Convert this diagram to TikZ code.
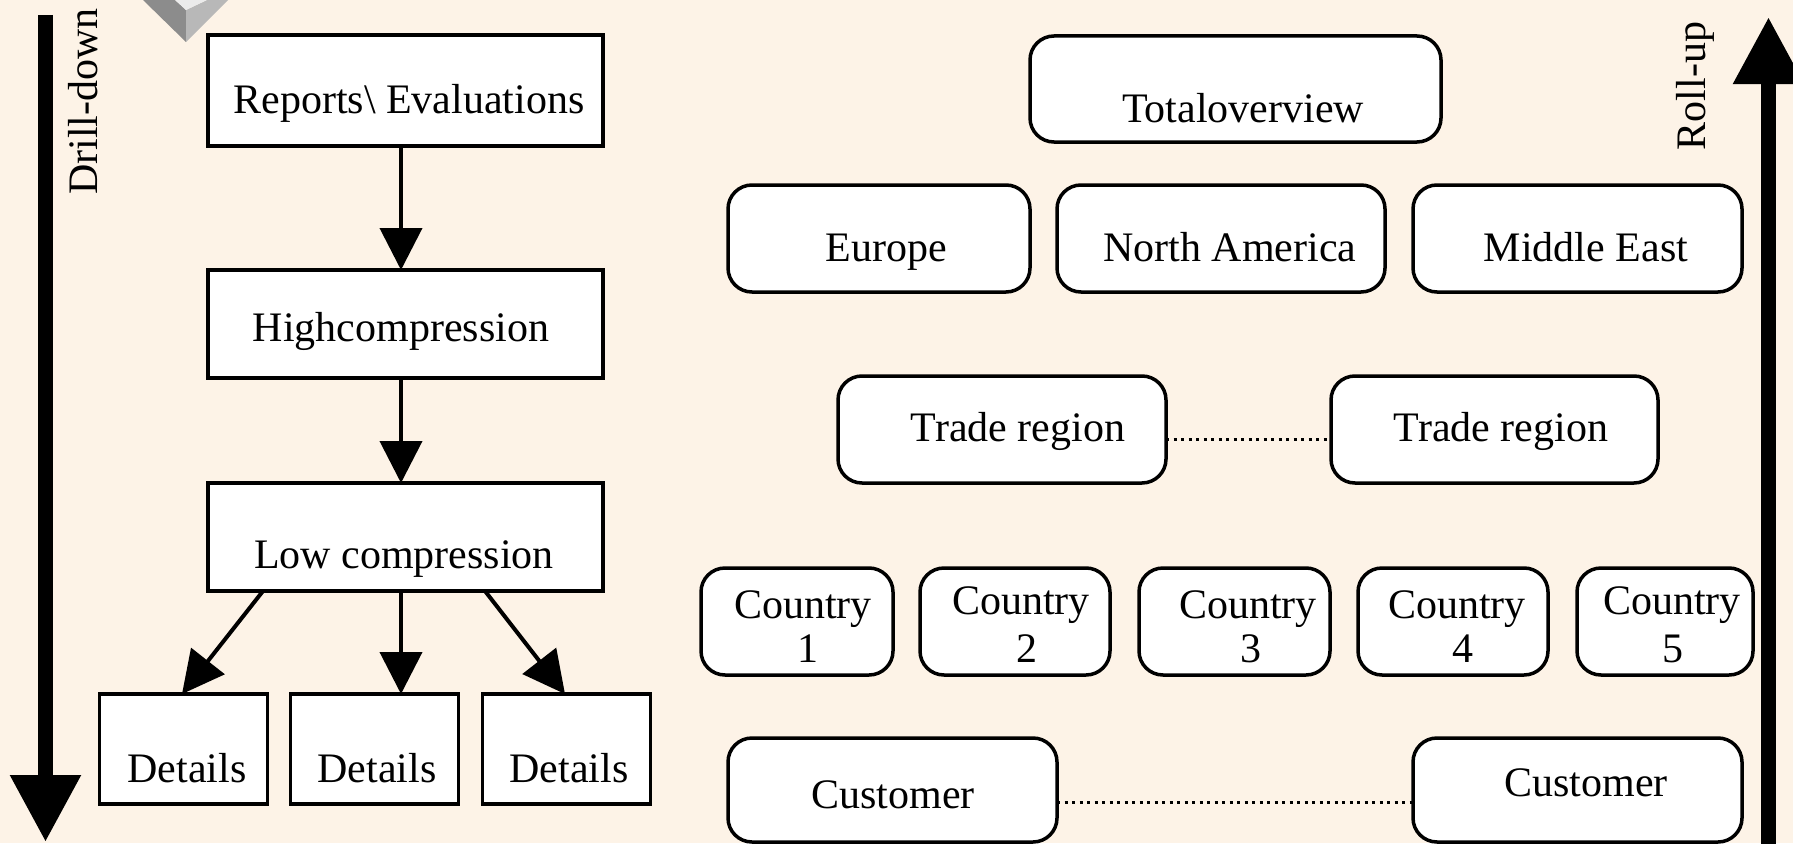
\documentclass[tikz,border=0pt]{standalone}
\usepackage{fontspec}
\setmainfont{Liberation Serif}
\usetikzlibrary{arrows.meta}
\definecolor{bgcream}{RGB}{253,243,231}
\definecolor{facedark}{RGB}{140,140,140}
\definecolor{facemid}{RGB}{184,184,184}
\definecolor{facelight}{RGB}{235,235,235}
\begin{document}
\begin{tikzpicture}[x=1pt,y=-1pt,
  sqbox/.style={draw=black, fill=white, line width=3.5pt, inner sep=0pt, outer sep=0pt, rectangle},
  rbox/.style={sqbox, rounded corners=24pt},
  lbl/.style={anchor=base, inner sep=0pt, outer sep=0pt, font=\fontsize{42}{48}\selectfont},
  flow/.style={line width=4pt, -{Triangle[length=42pt,width=42pt]}},
  bigarrow/.style={line width=15pt, -{Triangle[length=67pt,width=67pt]}},
  dotline/.style={line width=3pt, dash pattern=on 3pt off 4.5pt}]

% page and background
\fill[bgcream] (0,0) rectangle (1793,843);
\useasboundingbox (0,0) rectangle (1793,843);

% pyramid corner ornament
\fill[facedark] (143,0) -- (175,0) -- (186,10) -- (186,42) -- cycle;
\fill[facemid] (186,10) -- (207,0) -- (228,0) -- (186,42) -- cycle;
\fill[facelight] (175,0) -- (207,0) -- (186,10) -- cycle;

% drill-down arrow
\coordinate (drilltop) at (45.5,15);
\coordinate (drillend) at (45.5,842);
\draw[bigarrow] (drilltop) -- (drillend);
\node[lbl, rotate=90] (drilltxt) at (97,101.5) {Drill-down};

% roll-up arrow
\coordinate (rollbase) at (1768.5,860);
\coordinate (rolltip) at (1768.5,17);
\draw[bigarrow] (rollbase) -- (rolltip);
\node[lbl, rotate=90] (rolltxt) at (1705,86) {Roll-up};

% left column: compression levels
\node[sqbox, minimum width=395pt, minimum height=111pt] (rep) at (405.5,90.5) {};
\node[lbl] (reptxt) at (409,113) {Reports\textbackslash\ Evaluations};
\node[sqbox, minimum width=395pt, minimum height=108pt] (high) at (405.5,324) {};
\node[lbl] (hightxt) at (401,341) {Highcompression};
\node[sqbox, minimum width=395pt, minimum height=108pt] (low) at (405.5,537) {};
\node[lbl] (lowtxt) at (404,568) {Low compression};

\node[sqbox, minimum width=168pt, minimum height=110pt] (d1) at (183.5,749) {};
\node[lbl] (d1txt) at (187,782) {Details};
\node[sqbox, minimum width=168pt, minimum height=110pt] (d2) at (374.5,749) {};
\node[lbl] (d2txt) at (377,782) {Details};
\node[sqbox, minimum width=168pt, minimum height=110pt] (d3) at (566.5,749) {};
\node[lbl] (d3txt) at (569,782) {Details};

\draw[flow] ([xshift=-4.5pt]rep.south) -- ([xshift=-4.5pt]high.north);
\draw[flow] ([xshift=-4.5pt]high.south) -- ([xshift=-4.5pt]low.north);
\draw[flow] ([xshift=-142.5pt]low.south) -- ([xshift=-1.5pt]d1.north);
\draw[flow] ([xshift=-4.5pt]low.south) -- ([xshift=-4.5pt]low.south |- d2.north);
\draw[flow] ([xshift=79.5pt]low.south) -- ([xshift=-1.5pt]d3.north);

% right column: regional hierarchy
\node[rbox, minimum width=411pt, minimum height=106pt] (total) at (1235.5,89) {};
\node[lbl] (totaltxt) at (1243,122) {Totaloverview};

\node[rbox, minimum width=302pt, minimum height=107pt] (eu) at (879,238.5) {};
\node[lbl] (eutxt) at (886,261) {Europe};
\node[rbox, minimum width=328pt, minimum height=107pt] (na) at (1221,238.5) {};
\node[lbl] (natxt) at (1230,261) {North America};
\node[rbox, minimum width=329pt, minimum height=107pt] (me) at (1577.5,238.5) {};
\node[lbl] (metxt) at (1586,261) {Middle East};

\node[rbox, minimum width=328pt, minimum height=107pt] (tr1) at (1002,429.5) {};
\node[lbl] (tr1txt) at (1018,441) {Trade region};
\node[rbox, minimum width=327pt, minimum height=107pt] (tr2) at (1494.5,429.5) {};
\node[lbl] (tr2txt) at (1501,441) {Trade region};
\draw[dotline] ([yshift=-10pt]tr1.east) -- ([yshift=-10pt]tr2.west);

\node[rbox, minimum width=192pt, minimum height=107pt] (c1) at (797,621.5) {};
\node[lbl] (c1a) at (803,618) {Country};
\node[lbl] (c1b) at (808,662) {1};
\node[rbox, minimum width=190pt, minimum height=107pt] (c2) at (1015,621.5) {};
\node[lbl] (c2a) at (1021,614) {Country};
\node[lbl] (c2b) at (1027,662) {2};
\node[rbox, minimum width=191pt, minimum height=107pt] (c3) at (1234.5,621.5) {};
\node[lbl] (c3a) at (1248,618) {Country};
\node[lbl] (c3b) at (1251,662) {3};
\node[rbox, minimum width=190pt, minimum height=107pt] (c4) at (1453,621.5) {};
\node[lbl] (c4a) at (1457,618) {Country};
\node[lbl] (c4b) at (1463,662) {4};
\node[rbox, minimum width=176pt, minimum height=107pt] (c5) at (1665,621.5) {};
\node[lbl] (c5a) at (1672,614) {Country};
\node[lbl] (c5b) at (1673,662) {5};

\node[rbox, minimum width=329pt, minimum height=104pt] (cu1) at (892.5,790) {};
\node[lbl] (cu1txt) at (893,808) {Customer};
\node[rbox, minimum width=329pt, minimum height=104pt] (cu2) at (1577.5,790) {};
\node[lbl] (cu2txt) at (1586,796) {Customer};
\draw[dotline] ([yshift=-12pt]cu1.east) -- ([yshift=-12pt]cu2.west);
\end{tikzpicture}
\end{document}
